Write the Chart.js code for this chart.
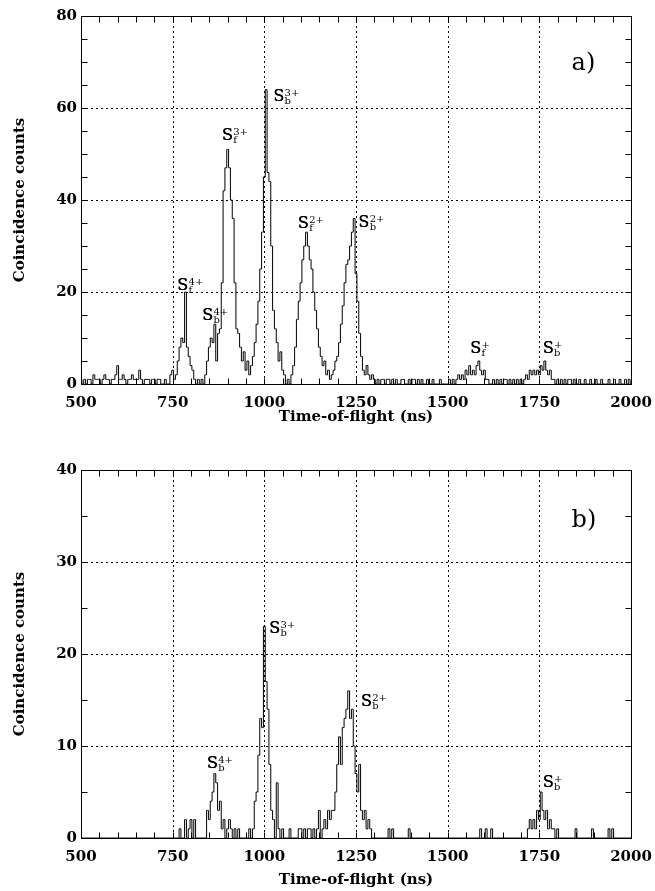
<!DOCTYPE html>
<html>
<head>
<meta charset="utf-8">
<script src="https://cdn.jsdelivr.net/npm/chart.js@4.4.1/dist/chart.umd.min.js"></script>
<style>
  body { margin: 0; background: #fff; }
  canvas { display: block; }
</style>
</head>
<body>
<canvas id="chartA" width="655" height="445"></canvas>
<canvas id="chartB" width="655" height="446"></canvas>
<script>
// time-of-flight histograms, 5 ns bins starting at 500 ns
var tofStart = 500;
var binWidth = 5;

// panel a), one row = 50 ns
var countsA = [
  1,0,1,0,1,1,0,2,1,1,      // 500
  1,0,1,2,1,1,0,1,1,2,      // 550
  4,1,1,2,1,0,1,1,2,1,      // 600
  1,1,3,1,0,1,1,1,0,1,      // 650
  1,0,1,1,0,0,1,0,0,2,      // 700
  3,1,2,5,8,10,9,20,8,6,    // 750
  4,3,1,0,1,0,1,0,2,5,      // 800
  8,10,9,13,5,11,12,22,42,47, // 850
  51,47,40,36,22,12,11,8,5,7, // 900
  3,5,2,4,6,9,13,18,25,33,  // 950
  45,64,46,44,30,16,12,9,5,7, // 1000
  3,2,0,1,0,2,4,8,14,18,    // 1050
  22,27,30,33,30,27,25,20,16,12, // 1100
  8,6,4,5,2,3,1,2,3,5,      // 1150
  6,9,13,17,22,26,27,30,33,36, // 1200
  24,18,11,6,3,2,4,2,1,2,   // 1250
  1,0,1,0,1,1,0,1,1,0,      // 1300
  1,0,1,0,0,1,1,0,0,1,      // 1350
  0,1,1,0,1,0,1,0,0,1,      // 1400
  0,0,1,0,0,0,1,0,0,0,      // 1450
  0,1,0,1,0,1,2,1,2,1,      // 1500
  3,2,4,2,3,2,4,5,3,2,      // 1550
  3,1,1,0,0,1,0,1,0,1,      // 1600
  0,1,1,0,1,0,1,0,1,0,      // 1650
  1,0,1,2,1,3,2,3,2,3,      // 1700
  2,4,3,5,3,2,3,1,1,0,      // 1750
  1,0,1,0,1,0,1,1,0,1,      // 1800
  0,0,1,0,0,1,0,0,1,0,      // 1850
  0,1,0,0,1,0,0,0,1,0,      // 1900
  0,1,0,0,1,0,0,1,0,1,      // 1950
  0                         // 2000
];

// panel b)
var countsB = [
  0,0,0,0,0,0,0,0,0,0,      // 500
  0,0,0,0,0,0,0,0,0,0,      // 550
  0,0,0,0,0,0,0,0,0,0,      // 600
  0,0,0,0,0,0,0,0,0,0,      // 650
  0,0,0,0,0,0,0,0,0,0,      // 700
  0,0,0,0,1,0,0,2,0,1,      // 750
  2,0,2,0,0,0,0,0,0,3,      // 800
  2,4,5,7,6,3,4,1,2,0,      // 850
  1,2,1,0,1,0,1,0,0,0,      // 900
  0,0,1,0,1,4,5,9,13,12,    // 950
  23,17,14,8,3,2,0,6,1,0,   // 1000
  1,0,0,0,1,0,0,0,0,1,      // 1050
  1,0,1,0,1,1,0,1,0,1,      // 1100
  3,0,1,2,1,3,2,3,3,5,      // 1150
  8,11,8,12,13,14,16,13,14,10, // 1200
  7,5,8,3,2,3,1,2,1,0,      // 1250
  0,0,0,0,0,0,0,0,1,0,      // 1300
  1,0,0,0,0,0,0,0,0,1,      // 1350
  0,0,0,0,0,0,0,0,0,0,      // 1400
  0,0,0,0,0,0,0,0,0,0,      // 1450
  0,0,0,0,0,0,0,0,0,0,      // 1500
  0,0,0,0,0,0,0,0,1,0,      // 1550
  0,1,0,0,1,0,0,0,0,0,      // 1600
  0,0,0,0,0,0,0,0,0,0,      // 1650
  0,0,0,0,1,2,1,2,1,3,      // 1700
  2,5,3,2,3,1,2,1,1,0,      // 1750
  1,0,0,0,0,0,0,0,0,0,      // 1800
  1,0,0,0,0,0,0,0,0,1,      // 1850
  0,0,0,0,0,0,0,0,1,0,      // 1900
  1,0,0,0,0,0,0,0,0,0,      // 1950
  0                         // 2000
];

var xTicks = [500, 750, 1000, 1250, 1500, 1750, 2000];
var yTicksA = [0, 20, 40, 60, 80];
var yTicksB = [0, 10, 20, 30, 40];

// peak labels: [sub, sup, ns, counts]
var ionsA = [
  ['f', '4+', 762, 20.4],
  ['b', '4+', 830, 13.9],
  ['f', '3+', 884, 53],
  ['b', '3+', 1024, 61.5],
  ['f', '2+', 1091, 33.9],
  ['b', '2+', 1256, 34.1],
  ['f', '+', 1561, 6.7],
  ['b', '+', 1759, 6.7]
];
var ionsB = [
  ['b', '4+', 843, 7.6],
  ['b', '3+', 1013, 22.3],
  ['b', '2+', 1263, 14.4],
  ['b', '+', 1759, 5.5]
];

var serif = '"DejaVu Serif", serif';

function toPoints(counts) {
  return counts.map(function (c, i) { return { x: tofStart + i * binWidth, y: c }; });
}

var framePlugin = {
  id: 'frame',
  beforeDatasetsDraw: function (chart, args, o) {
    var ctx = chart.ctx, a = chart.chartArea, x = chart.scales.x, y = chart.scales.y;
    ctx.save();
    ctx.strokeStyle = '#000';
    ctx.lineWidth = 1;
    ctx.setLineDash([2, 3]);
    ctx.beginPath();
    xTicks.forEach(function (v) {
      if (v <= x.min || v >= x.max) return;
      var px = Math.round(x.getPixelForValue(v)) + 0.5;
      ctx.moveTo(px, a.top); ctx.lineTo(px, a.bottom);
    });
    o.yTicks.forEach(function (v) {
      if (v <= y.min || v >= y.max) return;
      var py = Math.round(y.getPixelForValue(v)) + 0.5;
      ctx.moveTo(a.left, py); ctx.lineTo(a.right, py);
    });
    ctx.stroke();
    ctx.restore();
  },
  afterDatasetsDraw: function (chart, args, o) {
    var ctx = chart.ctx, a = chart.chartArea, x = chart.scales.x, y = chart.scales.y;
    var L = Math.round(a.left) + 0.5, R = Math.round(a.right) + 0.5;
    var T = Math.round(a.top) + 0.5, B = Math.round(a.bottom) + 0.5;
    ctx.save();
    ctx.strokeStyle = '#000';
    ctx.lineWidth = 1;
    ctx.setLineDash([]);
    ctx.strokeRect(L, T, R - L, B - T);
    // inward ticks
    ctx.beginPath();
    for (var t = 550; t < 2000; t += 50) {
      var px = Math.round(x.getPixelForValue(t)) + 0.5;
      ctx.moveTo(px, B); ctx.lineTo(px, B - 6);
      ctx.moveTo(px, T); ctx.lineTo(px, T + 6);
    }
    for (var v = 5; v < y.max; v += 5) {
      var py = Math.round(y.getPixelForValue(v)) + 0.5;
      ctx.moveTo(L, py); ctx.lineTo(L + 6, py);
      ctx.moveTo(R, py); ctx.lineTo(R - 6, py);
    }
    ctx.stroke();

    // peak labels
    ctx.fillStyle = '#000';
    ctx.textAlign = 'left';
    ctx.textBaseline = 'alphabetic';
    o.ions.forEach(function (ion) {
      var px = x.getPixelForValue(ion[2]);
      var py = y.getPixelForValue(ion[3]);
      ctx.font = '16px ' + serif;
      ctx.fillText('S', px, py);
      ctx.fillText('S', px + 0.4, py);
      var w = ctx.measureText('S').width;
      ctx.font = '10px ' + serif;
      ctx.fillText(ion[1], px + w + 0.5, py - 5);
      ctx.fillText(ion[0], px + w + 0.5, py + 3);
    });
    ctx.font = '24px ' + serif;
    ctx.fillText(o.tag, x.getPixelForValue(1838), y.getPixelForValue(o.tagY));
    ctx.restore();
  }
};

function makeChart(id, counts, yMax, yStep, yTicks, ions, tag, tagY, padTop, xAxisH, titlePad) {
  return new Chart(document.getElementById(id), {
    type: 'line',
    data: {
      datasets: [{
        data: toPoints(counts),
        borderColor: '#000',
        borderWidth: 1,
        pointRadius: 0,
        stepped: 'middle',
        fill: false
      }]
    },
    options: {
      responsive: false,
      animation: false,
      devicePixelRatio: 1,
      layout: { padding: { left: 0, right: 24, top: padTop, bottom: 0 } },
      plugins: {
        legend: { display: false },
        tooltip: { enabled: false },
        frame: { yTicks: yTicks, ions: ions, tag: tag, tagY: tagY }
      },
      scales: {
        x: {
          type: 'linear',
          min: 500, max: 2000,
          grid: { display: false, drawTicks: false },
          border: { display: false },
          ticks: { stepSize: 250, color: '#000', padding: 10.5, maxRotation: 0,
                   font: { family: serif, size: 15, weight: 'bold' },
                   callback: function (v) { return String(v); } },
          title: { display: true, text: 'Time-of-flight (ns)', color: '#000',
                   font: { family: serif, size: 15, weight: 'bold' }, padding: { top: 0, bottom: titlePad } },
          afterFit: function (s) { s.height = xAxisH; s.paddingLeft = 0; s.paddingRight = 0; }
        },
        y: {
          min: 0, max: yMax,
          grid: { display: false, drawTicks: false },
          border: { display: false },
          ticks: { stepSize: yStep, color: '#000', padding: 4,
                   font: { family: serif, size: 15, weight: 'bold' },
                   callback: function (v) { return String(v); } },
          title: { display: true, text: 'Coincidence counts', color: '#000',
                   font: { family: serif, size: 15, weight: 'bold' }, padding: { top: 11, bottom: 0 } },
          afterFit: function (s) { s.width = 81; s.paddingTop = 0; s.paddingBottom = 0; }
        }
      }
    },
    plugins: [framePlugin]
  });
}

makeChart('chartA', countsA, 80, 20, yTicksA, ionsA, 'a)', 68.3, 16, 61, 19);
makeChart('chartB', countsB, 40, 10, yTicksB, ionsB, 'b)', 33.8, 25, 53, 2);
</script>
</body>
</html>
